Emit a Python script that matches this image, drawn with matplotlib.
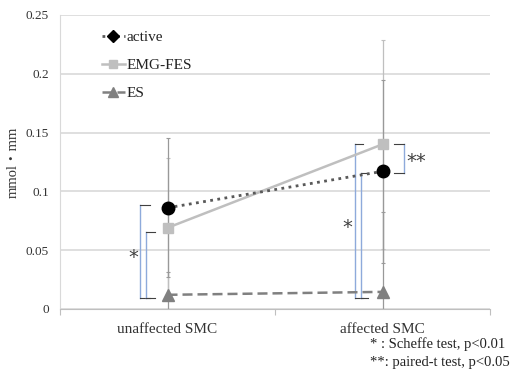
import matplotlib as mpl
import matplotlib.pyplot as plt
from matplotlib.lines import Line2D

mpl.rcParams['font.family'] = ['Liberation Serif', 'DejaVu Serif']

######################################################################
# data
######################################################################
categories = ['unaffected SMC', 'affected SMC']
series_names = ['active', 'EMG-FES', 'ES']
active_mean = [0.086, 0.117]
active_sd = [0.059, 0.078]
emgfes_mean = [0.069, 0.140]
emgfes_sd = [0.059, 0.089]
es_mean = [0.012, 0.0145]
es_sd = [0.019, 0.068]
yticks = [0, 0.05, 0.1, 0.15, 0.2, 0.25]
ytick_labels = ['0', '0.05', '0.1', '0.15', '0.2', '0.25']

######################################################################
# plot
######################################################################
fig = plt.figure(figsize=(5.17, 3.74), dpi=100)
ax = fig.add_axes([0.116, 0.174, 0.832, 0.786])

x = range(len(categories))
err_kw = dict(capsize=1.5, elinewidth=0.9, capthick=0.8, zorder=2)
ax.errorbar(x, es_mean, yerr=es_sd, fmt='none', ecolor='#999999', **err_kw)
ax.errorbar(x, emgfes_mean, yerr=emgfes_sd, fmt='none', ecolor='#bfbfbf', **err_kw)
ax.errorbar(x, active_mean, yerr=active_sd, fmt='none', ecolor='#999999', **err_kw)

ax.plot(x, emgfes_mean, color='#bfbfbf', lw=1.8, marker='s', ms=7, zorder=3)
ax.plot(x, es_mean, color='#808080', lw=1.8, ls=(0, (4, 2)), marker='^', ms=8, zorder=3)
ax.plot(x, active_mean, color='#595959', lw=2, ls=(0, (1, 1.6)), marker='o',
        ms=9, mfc='black', mec='black', zorder=4)

# significance brackets
blue = '#8eaadb'
dark = '#404040'
def bracket(xv, y0, y1, xt):
    ax.plot([xv, xv], [y0, y1], color=blue, lw=1, zorder=1)
    ax.plot([xv, xt], [y0, y0], color=dark, lw=0.8, zorder=1)
    ax.plot([xv, xt], [y1, y1], color=dark, lw=0.8, zorder=1)

bracket(-0.128, 0.009, 0.088, -0.081)
bracket(-0.100, 0.009, 0.065, -0.058)
bracket(0.872, 0.009, 0.140, 0.909)
bracket(0.900, 0.009, 0.116, 0.933)
bracket(1.100, 0.116, 0.140, 1.053)
star_kw = dict(ha='center', va='center', fontsize=14, color='#404040', family='DejaVu Sans')
ax.text(-0.16, 0.044, '*', **star_kw)
ax.text(0.835, 0.069, '*', **star_kw)
ax.text(1.155, 0.125, '**', **star_kw)

ax.set_xlim(-0.5, 1.5)
ax.set_ylim(0, 0.25)
ax.set_xticks([-0.5, 0.5, 1.5])
ax.set_xticklabels([])
ax.set_xticks(list(x), minor=True)
ax.set_xticklabels(categories, minor=True, fontsize=11, color='#333333')
ax.tick_params(axis='x', which='major', length=4, color='#bfbfbf', direction='out')
ax.tick_params(axis='x', which='minor', length=0, pad=10)
ax.set_yticks(yticks)
ax.set_yticklabels(ytick_labels, fontsize=9.5, color='#333333')
ax.tick_params(axis='y', length=0, pad=8)
ax.grid(axis='y', color='#d9d9d9', lw=1.2)
ax.set_axisbelow(True)
for s in ['top', 'right']:
    ax.spines[s].set_visible(False)
ax.spines['left'].set_color('#d9d9d9')
ax.spines['bottom'].set_color('#bfbfbf')
ax.set_ylabel('mmol・mm', fontsize=10.5, color='#333333',
              family=['Liberation Serif', 'Noto Sans CJK JP'])

handles = [
    Line2D([], [], color='#595959', lw=2, ls=(0, (1, 1.6)), marker='D', ms=6,
           mfc='black', mec='black'),
    Line2D([], [], color='#bfbfbf', lw=1.8, marker='s', ms=6),
    Line2D([], [], color='#808080', lw=1.8, ls=(0, (4, 2)), marker='^', ms=7),
]
ax.legend(handles, series_names, loc='upper left', bbox_to_anchor=(0.065, 0.995),
          frameon=False, fontsize=11, handlelength=1.5, handletextpad=0.1,
          labelspacing=0.95, labelcolor='#222222')

fig.text(0.716, 0.070, '* : Scheffe test, p<0.01', fontsize=10.5, color='#222222')
fig.text(0.716, 0.021, '**: paired-t test, p<0.05', fontsize=10.5, color='#222222')

fig.savefig('out.png', dpi=100)
